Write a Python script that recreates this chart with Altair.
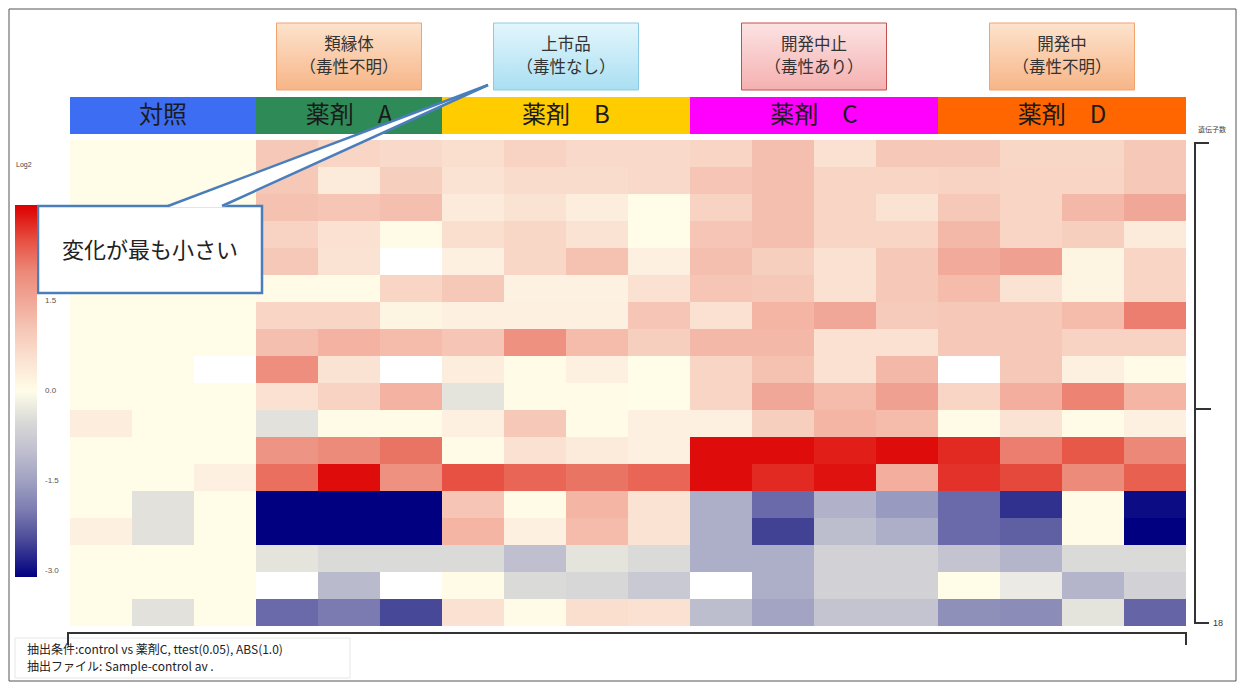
import altair as alt
import pandas as pd

# ---------------- data ----------------
group_labels = ["対照", "薬剤　A", "薬剤　B", "薬剤　C", "薬剤　D"]
group_sizes = [3, 3, 4, 4, 4]
group_colors = ["#3D6DF2", "#2E8B57", "#FFCC00", "#FF00FF", "#FF6600"]

# log2 ratio per column, rows top -> bottom (18 genes)
ctrl_1 = [0, 0, 0, 0, 0, 0, 0, 0, 0, 0, 0.35, 0, 0, 0, 0.3, 0, 0, 0]
ctrl_2 = [0, 0, 0, 0, 0, 0, 0, 0, 0, 0, 0, 0, 0, -0.35, -0.35, 0, 0, -0.35]
ctrl_3 = [0, 0, 0, 0, 0, 0, 0, 0, -0.1, 0, 0, 0, 0.3, 0, 0, 0, 0, 0]
a_1 = [1.0, 1.0, 1.1, 0.85, 1.0, 0.05, 0.8, 1.15, 1.9, 0.55, -0.35, 1.8, 2.25, -3.1, -3.1, -0.3, -0.1, -2.2]
a_2 = [0.8, 0.4, 1.05, 0.55, 0.5, 0.05, 0.8, 1.35, 0.5, 0.85, 0.05, 1.95, 3.0, -3.1, -3.1, -0.5, -1.1, -2.0]
a_3 = [0.7, 0.9, 1.15, 0.05, -0.1, 0.8, 0.2, 1.2, -0.1, 1.35, 0.05, 2.2, 1.85, -3.1, -3.1, -0.5, -0.1, -2.5]
b_1 = [0.6, 0.5, 0.4, 0.6, 0.3, 1.0, 0.3, 1.05, 0.35, -0.3, 0.3, 0.05, 2.5, 1.05, 1.3, -0.5, 0.05, 0.55]
b_2 = [0.85, 0.65, 0.5, 0.75, 0.75, 0.25, 0.3, 1.85, 0.05, 0.05, 1.0, 0.55, 2.35, 0.05, 0.3, -1.0, -0.5, 0.05]
b_3 = [0.7, 0.65, 0.35, 0.5, 1.1, 0.25, 0.3, 1.2, 0.3, 0.05, 0.05, 0.4, 2.2, 1.3, 1.2, -0.3, -0.55, 0.6]
b_4 = [0.7, 0.7, 0.0, 0.0, 0.3, 0.55, 1.05, 0.9, 0.0, 0.0, 0.3, 0.3, 2.35, 0.5, 0.5, -0.5, -0.8, 0.55]
c_1 = [0.8, 1.05, 0.85, 1.05, 1.15, 1.05, 0.55, 1.25, 0.8, 0.8, 0.3, 3.0, 3.0, -1.3, -1.3, -1.3, -0.1, -1.05]
c_2 = [1.15, 1.15, 1.15, 1.15, 0.9, 1.0, 1.3, 1.25, 1.1, 1.5, 0.9, 3.0, 2.75, -2.2, -2.55, -1.3, -1.3, -1.45]
c_3 = [0.55, 0.8, 0.8, 0.8, 0.55, 0.55, 1.5, 0.55, 0.55, 1.2, 1.3, 2.85, 2.95, -1.25, -1.05, -0.65, -0.65, -0.9]
c_4 = [1.0, 0.8, 0.5, 0.8, 1.0, 1.0, 0.95, 0.55, 1.25, 1.6, 1.2, 3.0, 1.4, -1.6, -1.3, -0.65, -0.65, -0.9]
d_1 = [1.0, 0.85, 1.0, 1.25, 1.45, 1.2, 1.0, 1.0, -0.1, 0.8, 0.05, 2.75, 2.7, -2.2, -2.2, -0.9, 0.02, -1.75]
d_2 = [0.75, 0.8, 0.8, 0.8, 1.6, 0.5, 1.0, 1.0, 1.0, 1.4, 0.5, 2.1, 2.55, -2.7, -2.3, -1.2, -0.25, -1.8]
d_3 = [0.75, 0.8, 1.25, 0.9, 0.2, 0.2, 1.2, 0.85, 0.3, 2.05, 0.05, 2.45, 1.95, 0.05, 0.05, -0.5, -1.2, -0.3]
d_4 = [1.0, 1.0, 1.5, 0.4, 0.8, 0.8, 2.1, 0.85, 0.05, 1.3, 0.3, 2.0, 2.4, -3.0, -3.1, -0.5, -0.65, -2.25]
columns = [ctrl_1, ctrl_2, ctrl_3, a_1, a_2, a_3, b_1, b_2, b_3, b_4,
           c_1, c_2, c_3, c_4, d_1, d_2, d_3, d_4]

legend_values = [1.5, 0.0, -1.5, -3.0]
color_domain = [-3.1, -2.6, -2.2, -1.8, -1.5, -1.2, -0.8, -0.5, -0.3, -0.1, 0.0, 0.05,
                0.3, 0.5, 0.8, 1.0, 1.3, 1.6, 2.0, 2.4, 2.75, 3.1]
color_range = ["#000080", "#3C3C92", "#6A6AAA", "#8B8CB8", "#A0A1C2", "#B4B5CA", "#C9C9D3",
               "#DADAD8", "#E4E3DC", "#FFFFFF", "#FFFDE8", "#FFFBE6",
               "#FDF0E0", "#FBE3D3", "#F8D5C5", "#F6C8B8", "#F4B5A5", "#F0A090",
               "#EC8878", "#E86050", "#E22A22", "#DD0000"]

box_line1 = ["類縁体", "上市品", "開発中止", "開発中"]
box_line2 = ["（毒性不明）", "（毒性なし）", "（毒性あり）", "（毒性不明）"]
box_group = [1, 2, 3, 4]
box_top = ["#FDE3CD", "#E3F6FC", "#FCE3E3", "#FDE3CD"]
box_bottom = ["#F7B587", "#A9DFF2", "#F5B0B0", "#F7B587"]
box_border = ["#F3A36E", "#8CCBE3", "#C0504D", "#F3A36E"]

callout_text = "変化が最も小さい"
callout_wedge_y = [-2.04, 2.49]
callout_wedge_x = [6.742, 1.573]
callout_wedge_x2 = [6.742, 2.46]
footer_lines = ["抽出条件:control vs 薬剤C, ttest(0.05), ABS(1.0)",
                "抽出ファイル:  Sample-control av ."]
bracket_title = "遺伝子数"
bracket_count = "18"
legend_title = "Log2"

# ---------------- build ----------------
FONT = "Noto Sans CJK JP"
W, H = 1116, 486
NCOL = sum(group_sizes)
NROW = len(ctrl_1)
XS = alt.Scale(domain=[0, NCOL], nice=False, zero=False)
YS = alt.Scale(domain=[0, NROW], nice=False, zero=False, reverse=True)
CS = alt.Scale(domain=color_domain, range=color_range, interpolate="rgb", clamp=True)
one = pd.DataFrame({"k": [0]})

recs = []
for ci, col in enumerate(columns):
    for ri, v in enumerate(col):
        recs.append({"c0": ci, "c1": ci + 1, "r0": ri, "r1": ri + 1, "v": v})
heat_df = pd.DataFrame(recs)

starts = []
s = 0
for n in group_sizes:
    starts.append(s)
    s += n
hdr_df = pd.DataFrame({
    "start": starts,
    "end": [a + n for a, n in zip(starts, group_sizes)],
    "mid": [a + n / 2 for a, n in zip(starts, group_sizes)],
    "label": group_labels,
    "color": group_colors,
})

heat = alt.Chart(heat_df).mark_rect().encode(
    x=alt.X("c0:Q", scale=XS, axis=None),
    x2="c1:Q",
    y=alt.Y("r0:Q", scale=YS, axis=None),
    y2="r1:Q",
    color=alt.Color("v:Q", scale=CS, legend=alt.Legend(
        type="gradient",
        orient="none", legendX=-55, legendY=65, direction="vertical",
        gradientLength=372, gradientThickness=22, values=legend_values,
        labelExpr="replace(format(datum.value, '.1f'), '\u2212', '-')",
        labelFontSize=8, labelColor="#555555", labelFont="Liberation Sans",
        labelOffset=8, title=None, padding=0, gradientStrokeWidth=0)),
)

layers = []

frame = alt.Chart(one).mark_rect(fill="white", stroke="#555555", strokeWidth=1).encode(
    x=alt.value(-61), x2=alt.value(1166), y=alt.value(-131), y2=alt.value(541))
layers.append(frame)
layers.append(heat)

header = alt.Chart(hdr_df).mark_rect().encode(
    x=alt.X("start:Q", scale=XS, axis=None), x2="end:Q",
    y=alt.value(-43), y2=alt.value(-6),
    fill=alt.Fill("color:N", scale=None))
header_txt = alt.Chart(hdr_df).mark_text(font=FONT, fontSize=24, color="#1a1a1a",
                                         baseline="middle").encode(
    x=alt.X("mid:Q", scale=XS, axis=None), y=alt.value(-24), text="label:N")
layers += [header, header_txt]

half = 72.5 / (W / NCOL)
for i in range(len(box_line1)):
    g = box_group[i]
    c = starts[g] + group_sizes[g] / 2
    bdf = pd.DataFrame({"bx": [c - half], "bx2": [c + half], "m": [c],
                        "t1": [box_line1[i]], "t2": [box_line2[i]]})
    shadow = alt.Chart(bdf).mark_rect(fill="#bbbbbb", opacity=0.5, xOffset=2, yOffset=3).encode(
        x=alt.X("bx:Q", scale=XS, axis=None), x2="bx2:Q",
        y=alt.value(-117), y2=alt.value(-50))
    grad = alt.LinearGradient(gradient="linear",
                              stops=[alt.GradientStop(color=box_top[i], offset=0),
                                     alt.GradientStop(color=box_bottom[i], offset=1)],
                              x1=0, x2=0, y1=0, y2=1)
    box = alt.Chart(bdf).mark_rect(fill=grad, stroke=box_border[i], strokeWidth=1).encode(
        x=alt.X("bx:Q", scale=XS, axis=None), x2="bx2:Q",
        y=alt.value(-117), y2=alt.value(-50))
    t1 = alt.Chart(bdf).mark_text(font=FONT, fontSize=16.5, color="#333333", baseline="middle").encode(
        x=alt.X("m:Q", scale=XS, axis=None), y=alt.value(-95), text="t1:N")
    t2 = alt.Chart(bdf).mark_text(font=FONT, fontSize=16.5, color="#333333", baseline="middle").encode(
        x=alt.X("m:Q", scale=XS, axis=None), y=alt.value(-72), text="t2:N")
    layers += [shadow, box, t1, t2]

BLUE = "#4A7EBB"
callout_box = alt.Chart(one).mark_rect(fill="white", stroke=BLUE, strokeWidth=2.5).encode(
    x=alt.value(-32), x2=alt.value(192), y=alt.value(66), y2=alt.value(153))
wedge_df = pd.DataFrame({"wy": callout_wedge_y, "wx": callout_wedge_x, "wx2": callout_wedge_x2})
wedge = alt.Chart(wedge_df).mark_area(orient="horizontal", color="white", opacity=1).encode(
    y=alt.Y("wy:Q", scale=YS, axis=None),
    x=alt.X("wx:Q", scale=XS, axis=None), x2="wx2:Q")
wl1 = alt.Chart(one).mark_rule(color=BLUE, strokeWidth=2.5).encode(
    x=alt.value(418), y=alt.value(-55), x2=alt.value(98), y2=alt.value(66))
wl2 = alt.Chart(one).mark_rule(color=BLUE, strokeWidth=2.5).encode(
    x=alt.value(418), y=alt.value(-55), x2=alt.value(152), y2=alt.value(66))
callout_txt = alt.Chart(pd.DataFrame({"t": [callout_text]})).mark_text(
    font=FONT, fontSize=22, color="#222222", baseline="middle").encode(
    x=alt.value(80), y=alt.value(111), text="t:N")
layers += [callout_box, wedge, wl1, wl2, callout_txt]

log_txt = alt.Chart(pd.DataFrame({"t": [legend_title]})).mark_text(
    font="Liberation Sans", fontSize=7, color="#444444", align="left", baseline="middle").encode(
    x=alt.value(-54), y=alt.value(25), text="t:N")
layers.append(log_txt)

# right bracket
BK = "#333333"
layers.append(alt.Chart(one).mark_rule(color=BK, strokeWidth=2).encode(
    x=alt.value(1125), y=alt.value(3), y2=alt.value(483)))
for yy, xe in [(3, 1139), (269, 1141), (483, 1139)]:
    layers.append(alt.Chart(one).mark_rule(color=BK, strokeWidth=2).encode(
        x=alt.value(1124), x2=alt.value(xe), y=alt.value(yy)))
layers.append(alt.Chart(pd.DataFrame({"t": [bracket_title]})).mark_text(
    font=FONT, fontSize=7, color="#444444", align="center", baseline="middle").encode(
    x=alt.value(1142), y=alt.value(-10), text="t:N"))
layers.append(alt.Chart(pd.DataFrame({"t": [bracket_count]})).mark_text(
    font="Liberation Sans", fontSize=9, color="#333333", align="left", baseline="middle").encode(
    x=alt.value(1143), y=alt.value(483), text="t:N"))

# footer box + bottom bracket
layers.append(alt.Chart(one).mark_rect(fill="white", stroke="#e6e6e6", strokeWidth=1).encode(
    x=alt.value(-55), x2=alt.value(280), y=alt.value(498), y2=alt.value(538)))
layers.append(alt.Chart(one).mark_rule(color=BK, strokeWidth=2).encode(
    x=alt.value(-2), x2=alt.value(1116), y=alt.value(493)))
for xx in [-2, 1116]:
    layers.append(alt.Chart(one).mark_rule(color=BK, strokeWidth=2).encode(
        x=alt.value(xx), y=alt.value(492), y2=alt.value(505)))
for i, line in enumerate(footer_lines):
    layers.append(alt.Chart(pd.DataFrame({"t": [line]})).mark_text(
        font=FONT, fontSize=12, color="#222222", align="left", baseline="middle").encode(
        x=alt.value(-43), y=alt.value(510 + 17 * i), text="t:N"))

chart = alt.layer(*layers).properties(
    width=W, height=H,
    autosize=alt.AutoSizeParams(type="none"),
    padding={"left": 62, "top": 132, "right": 51, "bottom": 57},
    background="white",
).configure_view(stroke="#b5b5b5", strokeWidth=1)

chart.save("out.html", embed_options={"renderer": "svg", "actions": False})
